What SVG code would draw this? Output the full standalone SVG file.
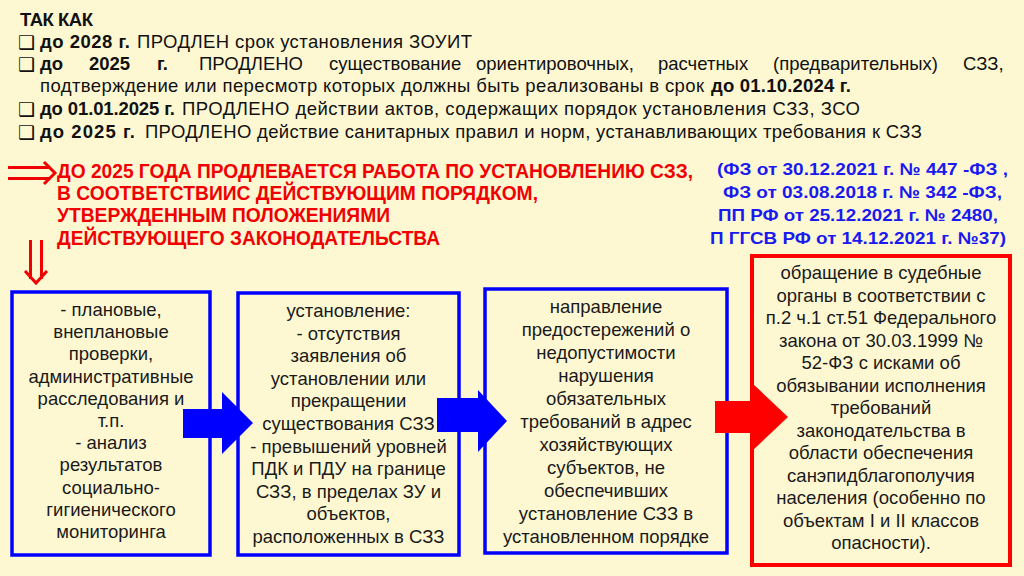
<svg xmlns="http://www.w3.org/2000/svg" width="1024" height="576" viewBox="0 0 1024 576">
<style>
.bg{fill:#FEF8D2}
.hd{font-family:"Liberation Sans",Arial,sans-serif;font-size:18.5px;fill:#111}
.b{font-weight:bold}
.chk{font-family:"DejaVu Sans",sans-serif;font-size:19px;fill:#111}
.red{font-family:"Liberation Sans",Arial,sans-serif;font-size:20px;font-weight:bold;fill:#F00000}
.blu{font-family:"Liberation Sans",Arial,sans-serif;font-size:17px;font-weight:bold;fill:#1A1AF0}
.bx{font-family:"Liberation Sans",Arial,sans-serif;font-size:18.5px;fill:#1a1a1a;text-anchor:middle}
.nb{fill:none;stroke:#0000FF;stroke-width:3.5}
.nr{fill:none;stroke:#FF0000;stroke-width:4}
.ra{fill:none;stroke:#F00000;stroke-width:3;stroke-linecap:butt}
</style>
<rect class="bg" x="0" y="0" width="1024" height="576"/>

<g id="header">
<text class="hd b" x="20" y="26" textLength="73">ТАК КАК</text>
<text class="chk" x="18" y="49">❑</text>
<text class="hd" y="48"><tspan class="b" x="40" textLength="90">до 2028 г.</tspan><tspan x="137" textLength="335">ПРОДЛЕН срок установления  ЗОУИТ</tspan></text>
<text class="chk" x="18" y="71">❑</text>
<text class="hd" y="70"><tspan class="b" x="40">до</tspan><tspan class="b" x="89">2025</tspan><tspan class="b" x="157">г.</tspan><tspan x="199">ПРОДЛЕНО</tspan><tspan x="329">существование</tspan><tspan x="476">ориентировочных,</tspan><tspan x="658">расчетных</tspan><tspan x="773">(предварительных)</tspan><tspan x="963">СЗЗ,</tspan></text>
<text class="hd" y="92"><tspan x="40" textLength="664">подтверждение или пересмотр которых должны быть реализованы  в срок</tspan><tspan class="b" x="711" textLength="140">до 01.10.2024 г.</tspan></text>
<text class="chk" x="18" y="116">❑</text>
<text class="hd" y="115"><tspan class="b" x="40" textLength="135">до 01.01.2025 г.</tspan><tspan x="182" textLength="678">ПРОДЛЕНО действии актов, содержащих  порядок установления  СЗЗ, ЗСО</tspan></text>
<text class="chk" x="18" y="139">❑</text>
<text class="hd" y="138"><tspan class="b" x="40" textLength="95">до 2025 г.</tspan><tspan x="145" textLength="777">ПРОДЛЕНО действие санитарных правил и норм, устанавливающих  требования к СЗЗ</tspan></text>
</g>

<g id="conclusion">
<path class="ra" d="M8,167.5 H50 M8,178.5 H50 M44,162 L55,173 L44,184"/>
<text class="red" x="57" y="178" textLength="636" lengthAdjust="spacingAndGlyphs">ДО 2025 ГОДА ПРОДЛЕВАЕТСЯ РАБОТА ПО УСТАНОВЛЕНИЮ СЗЗ,</text>
<text class="red" x="57" y="200" textLength="481" lengthAdjust="spacingAndGlyphs">В СООТВЕТСТВИИС ДЕЙСТВУЮЩИМ ПОРЯДКОМ,</text>
<text class="red" x="57" y="222" textLength="333" lengthAdjust="spacingAndGlyphs">УТВЕРЖДЕННЫМ ПОЛОЖЕНИЯМИ</text>
<text class="red" x="57" y="245" textLength="383" lengthAdjust="spacingAndGlyphs">ДЕЙСТВУЮЩЕГО ЗАКОНОДАТЕЛЬСТВА</text>
<path class="ra" d="M30.5,240 V279 M41.5,240 V279 M25,271 L36,283 L47,271"/>
</g>

<g id="laws">
<text class="blu" x="717" y="175" textLength="291" lengthAdjust="spacingAndGlyphs">(ФЗ от 30.12.2021 г. № 447 -ФЗ ,</text>
<text class="blu" x="723" y="198" textLength="279" lengthAdjust="spacingAndGlyphs">ФЗ от 03.08.2018 г. № 342 -ФЗ,</text>
<text class="blu" x="718" y="221" textLength="280" lengthAdjust="spacingAndGlyphs">ПП РФ от 25.12.2021 г. № 2480,</text>
<text class="blu" x="710" y="244" textLength="296" lengthAdjust="spacingAndGlyphs">П ГГСВ РФ от 14.12.2021 г. №37)</text>
</g>

<g id="node-inspections">
<rect class="nb" x="12" y="292" width="198" height="263"/>
<text class="bx"><tspan x="111" y="316">- плановые,</tspan><tspan x="111" y="338.2">внеплановые</tspan><tspan x="111" y="360.4">проверки,</tspan><tspan x="111" y="382.6">административные</tspan><tspan x="111" y="404.8">расследования и</tspan><tspan x="111" y="427">т.п.</tspan><tspan x="111" y="449.2">- анализ</tspan><tspan x="111" y="471.4">результатов</tspan><tspan x="111" y="493.6">социально-</tspan><tspan x="111" y="515.8">гигиенического</tspan><tspan x="111" y="538">мониторинга</tspan></text>
</g>

<g id="node-establishment">
<rect class="nb" x="238" y="293" width="221" height="262"/>
<text class="bx"><tspan x="348.5" y="317">установление:</tspan><tspan x="348.5" y="339.6">- отсутствия</tspan><tspan x="348.5" y="362.2">заявления об</tspan><tspan x="348.5" y="384.8">установлении или</tspan><tspan x="348.5" y="407.4">прекращении</tspan><tspan x="348.5" y="430">существования СЗЗ</tspan><tspan x="348.5" y="452.6">- превышений уровней</tspan><tspan x="348.5" y="475.2">ПДК и ПДУ на границе</tspan><tspan x="348.5" y="497.8">СЗЗ, в пределах ЗУ и</tspan><tspan x="348.5" y="520.4">объектов,</tspan><tspan x="348.5" y="543">расположенных в СЗЗ</tspan></text>
</g>

<g id="node-warnings">
<rect class="nb" x="485" y="289" width="242" height="264"/>
<text class="bx"><tspan x="606" y="313">направление</tspan><tspan x="606" y="336">предостережений о</tspan><tspan x="606" y="359">недопустимости</tspan><tspan x="606" y="382">нарушения</tspan><tspan x="606" y="405">обязательных</tspan><tspan x="606" y="428">требований в адрес</tspan><tspan x="606" y="451">хозяйствующих</tspan><tspan x="606" y="474">субъектов, не</tspan><tspan x="606" y="497">обеспечивших</tspan><tspan x="606" y="520">установление СЗЗ в</tspan><tspan x="606" y="543">установленном порядке</tspan></text>
</g>

<g id="node-court">
<rect class="nr" x="752" y="256" width="258" height="309"/>
<text class="bx"><tspan x="881" y="279">обращение в судебные</tspan><tspan x="881" y="301.5">органы в соответствии с</tspan><tspan x="881" y="324">п.2 ч.1 ст.51 Федерального</tspan><tspan x="881" y="346.5">закона от 30.03.1999 №</tspan><tspan x="881" y="369">52-ФЗ с исками об</tspan><tspan x="881" y="391.5">обязывании исполнения</tspan><tspan x="881" y="414">требований</tspan><tspan x="881" y="436.5">законодательства в</tspan><tspan x="881" y="459">области обеспечения</tspan><tspan x="881" y="481.5">санэпидблагополучия</tspan><tspan x="881" y="504">населения (особенно по</tspan><tspan x="881" y="526.5">объектам I и II классов</tspan><tspan x="881" y="549">опасности).</tspan></text>
</g>

<g id="connectors">
<polygon fill="#0000FF" points="183,409 222,409 222,392 253,423 222,454 222,438 183,438"/>
<polygon fill="#0000FF" points="437,398 478,398 478,390 507,421 478,452 478,432 437,432"/>
<polygon fill="#FF0000" points="715,401 752,401 752,383 788,417 752,451 752,433 715,433"/>
</g>
</svg>
